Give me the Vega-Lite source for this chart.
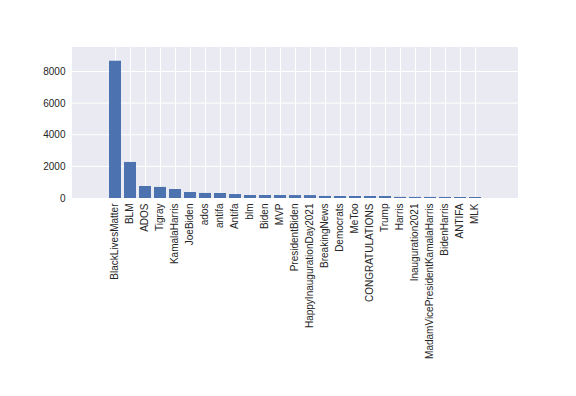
{
  "$schema": "https://vega.github.io/schema/vega-lite/v6.json",
  "autosize": {"type": "none"},
  "padding": {"left": 72, "top": 47, "right": 58, "bottom": 198},
  "width": 446,
  "height": 151,
  "background": "white",
  "config": {
    "view": {"fill": "#eaeaf2", "stroke": null},
    "axis": {
      "labelFont": "Liberation Sans",
      "labelFontSize": 10,
      "labelColor": "#262626",
      "gridColor": "white",
      "gridWidth": 1,
      "gridOpacity": 1,
      "domain": false,
      "ticks": false,
      "title": null,
      "labelOverlap": false
    }
  },
  "layer": [
    {
      "data": {"values": [{"v": 2000}, {"v": 4000}, {"v": 6000}, {"v": 8000}]},
      "mark": {"type": "rule", "color": "white", "strokeWidth": 1},
      "encoding": {
        "y": {
          "field": "v",
          "type": "quantitative",
          "scale": {"domain": [0, 9550], "nice": false},
          "axis": {"values": [0, 2000, 4000, 6000, 8000], "format": "d", "labelPadding": 7, "grid": false}
        }
      }
    },
    {
      "data": {
        "values": [
          {"tag": "BlackLivesMatter", "count": 8680},
          {"tag": "BLM", "count": 2280},
          {"tag": "ADOS", "count": 760},
          {"tag": "Tigray", "count": 700},
          {"tag": "KamalaHarris", "count": 570},
          {"tag": "JoeBiden", "count": 380},
          {"tag": "ados", "count": 320},
          {"tag": "antifa", "count": 316},
          {"tag": "Antifa", "count": 250},
          {"tag": "blm", "count": 190},
          {"tag": "Biden", "count": 190},
          {"tag": "MVP", "count": 188},
          {"tag": "PresidentBiden", "count": 186},
          {"tag": "HappyInaugurationDay2021", "count": 185},
          {"tag": "BreakingNews", "count": 130},
          {"tag": "Democrats", "count": 128},
          {"tag": "MeToo", "count": 127},
          {"tag": "CONGRATULATIONS", "count": 126},
          {"tag": "Trump", "count": 125},
          {"tag": "Harris", "count": 70},
          {"tag": "Inauguration2021", "count": 68},
          {"tag": "MadamVicePresidentKamalaHarris", "count": 67},
          {"tag": "BidenHarris", "count": 66},
          {"tag": "ANTIFA", "count": 65},
          {"tag": "MLK", "count": 64}
        ]
      },
      "mark": {"type": "bar", "color": "#4c72b0"},
      "encoding": {
        "x": {
          "field": "tag",
          "type": "nominal",
          "sort": null,
          "scale": {"paddingInner": 0.2, "paddingOuter": 1, "range": [22, 424]},
          "axis": {"labelAngle": -90, "labelPadding": 5, "grid": true, "bandPosition": 0.5, "labelLimit": 300}
        },
        "y": {
          "field": "count",
          "type": "quantitative",
          "scale": {"domain": [0, 9550], "nice": false},
          "axis": {"values": [0, 2000, 4000, 6000, 8000], "format": "d", "labelPadding": 7, "grid": false}
        }
      }
    }
  ]
}
